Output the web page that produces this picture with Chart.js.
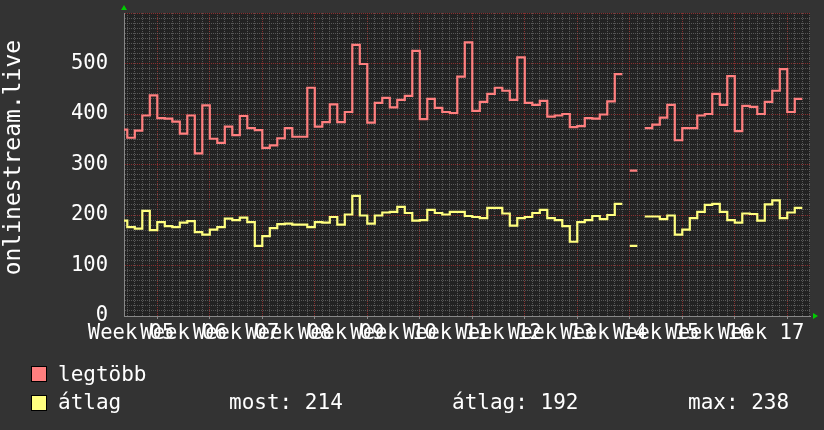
<!DOCTYPE html>
<html>
<head>
<meta charset="utf-8">
<script src="https://cdn.jsdelivr.net/npm/chart.js@4"></script>
<style>
  body { margin: 0; background: #333; }
  #wrap { position: relative; width: 824px; height: 430px; }
  .leg { position: absolute; font: 21px 'DejaVu Sans Mono', monospace; color: #fff; white-space: pre; line-height: 21px; }
  .sw { position: absolute; width: 14px; height: 14px; border: 1px solid #000; }
</style>
</head>
<body>
<div id="wrap">
  <canvas id="rrd" width="824" height="430"></canvas>
  <div class="sw" style="left:31px;top:366px;background:#ff7f7f"></div>
  <div class="leg" style="left:58px;top:364px">legtöbb</div>
  <div class="sw" style="left:31px;top:395px;background:#ffff7f"></div>
  <div class="leg" style="left:58px;top:392px">átlag</div>
  <div class="leg" style="left:229px;top:392px">most: 214</div>
  <div class="leg" style="left:452px;top:392px">átlag: 192</div>
  <div class="leg" style="left:688px;top:392px">max: 238</div>
</div>
<script>
// one value per day, first entry is the partial day before day 0
const firstDay = -1;

const weekLabels = ['Week 05', 'Week 06', 'Week 07', 'Week 08', 'Week 09', 'Week 10', 'Week 11',
                    'Week 12', 'Week 13', 'Week 14', 'Week 15', 'Week 16', 'Week 17'];

const legtobb = [369, 353, 367, 397, 437, 392, 391, 385, 361, 397,
                 322, 417, 351, 343, 375, 358, 396, 372, 368, 333,
                 338, 352, 372, 355, 355, 452, 375, 384, 419, 384,
                 404, 537, 499, 383, 422, 432, 413, 428, 436, 525,
                 390, 430, 412, 404, 402, 474, 542, 406, 424, 440,
                 452, 446, 428, 512, 422, 418, 426, 395, 397, 400,
                 374, 376, 392, 391, 399, 425, 479, null, 288, null,
                 372, 379, 393, 418, 348, 372, 372, 397, 400, 440,
                 418, 475, 366, 416, 414, 400, 424, 446, 489, 404,
                 430];

const atlag = [189, 176, 173, 208, 170, 186, 178, 176, 185, 188,
               166, 161, 171, 176, 193, 190, 195, 186, 139, 158,
               174, 182, 183, 181, 181, 176, 186, 185, 196, 181,
               201, 238, 199, 183, 199, 205, 206, 216, 204, 189,
               190, 210, 204, 201, 206, 206, 198, 196, 194, 214,
               214, 203, 179, 194, 196, 204, 210, 194, 190, 178,
               147, 186, 190, 198, 192, 200, 222, null, 139, null,
               197, 197, 192, 199, 161, 171, 194, 206, 220, 222,
               206, 190, 185, 203, 202, 189, 221, 229, 194, 205,
               214];

const FONT = 'DejaVu Sans Mono';
const MINOR = 'rgba(110,110,110,0.7)';
const MAJOR = 'rgba(150,50,50,0.9)';

// each day becomes a flat segment, nulls break the line
function toSteps(values) {
    const pts = [];
    values.forEach((v, i) => {
        const d = firstDay + i;
        if (v === null) {
            pts.push({ x: d + 0.5, y: null });
        } else {
            pts.push({ x: d, y: v }, { x: d + 1, y: v });
        }
    });
    return pts;
}

const background = {
    id: 'background',
    beforeDraw(chart) {
        const c = chart.ctx, a = chart.chartArea;
        c.save();
        c.fillStyle = '#333333';
        c.fillRect(0, 0, chart.width, chart.height);
        c.fillStyle = '#222222';
        c.fillRect(a.left, a.top, a.right - a.left, a.bottom - a.top);
        c.restore();
    },
    afterDraw(chart) {
        const c = chart.ctx, a = chart.chartArea;
        c.save();
        c.fillStyle = '#00cc00';
        c.beginPath();
        c.moveTo(a.left - 3, a.top - 3);
        c.lineTo(a.left + 3, a.top - 3);
        c.lineTo(a.left, a.top - 8);
        c.fill();
        c.beginPath();
        c.moveTo(a.right + 3, a.bottom - 3);
        c.lineTo(a.right + 3, a.bottom + 3);
        c.lineTo(a.right + 8, a.bottom);
        c.fill();
        c.restore();
    }
};

const ctx = document.getElementById('rrd').getContext('2d');

new Chart(ctx, {
    type: 'line',
    data: {
        datasets: [
            { label: 'legtöbb', data: toSteps(legtobb), borderColor: '#ff7f7f', borderWidth: 2.2,
              pointRadius: 0, tension: 0, clip: 0, borderJoinStyle: 'miter' },
            { label: 'átlag', data: toSteps(atlag), borderColor: '#ffff7f', borderWidth: 2.2,
              pointRadius: 0, tension: 0, clip: 0, borderJoinStyle: 'miter' }
        ]
    },
    options: {
        responsive: false,
        animation: false,
        devicePixelRatio: 1,
        layout: { padding: { top: 13, right: 14, left: 0, bottom: 0 } },
        plugins: { legend: { display: false }, tooltip: { enabled: false } },
        scales: {
            x: {
                type: 'linear',
                min: -0.44,
                max: 91.03,
                afterBuildTicks(scale) {
                    const ticks = [];
                    for (let d = 0; d <= 91; d++) ticks.push({ value: d });
                    weekLabels.forEach((l, i) => ticks.push({ value: i * 7 + 0.5, lbl: l }));
                    ticks.sort((a, b) => a.value - b.value);
                    scale.ticks = ticks;
                },
                afterFit(scale) {
                    scale.height = 114;
                    scale.paddingLeft = 0;
                    scale.paddingRight = 0;
                },
                grid: {
                    color: c => c.tick.lbl ? 'transparent' : ((c.tick.value - 4) % 7 === 0 ? MAJOR : MINOR),
                    tickColor: c => (!c.tick.lbl && (c.tick.value - 4) % 7 === 0) ? '#888' : 'transparent',
                    tickLength: 3,
                    lineWidth: 1
                },
                border: { display: true, color: '#888', dash: [1, 1] },
                ticks: {
                    autoSkip: false,
                    maxRotation: 0,
                    minRotation: 0,
                    padding: 2,
                    color: '#fff',
                    font: { family: FONT, size: 20.5 },
                    callback: (v, i, ticks) => ticks[i].lbl || ''
                }
            },
            y: {
                min: 0,
                max: 600,
                afterBuildTicks(scale) {
                    const ticks = [];
                    for (let v = 0; v <= 600; v += 10) ticks.push({ value: v });
                    scale.ticks = ticks;
                },
                afterFit(scale) {
                    scale.width = 124;
                    scale.paddingTop = 0;
                    scale.paddingBottom = 0;
                },
                grid: {
                    color: c => c.tick.value % 100 === 0 ? MAJOR : MINOR,
                    drawTicks: false,
                    lineWidth: 1
                },
                border: { display: true, color: '#888', dash: [1, 1] },
                ticks: {
                    autoSkip: false,
                    padding: 16,
                    color: '#fff',
                    font: { family: FONT, size: 20.5 },
                    callback: v => (v % 100 === 0 && v < 600) ? String(v) : ''
                },
                title: {
                    display: true,
                    text: ' onlinestream.live',
                    color: '#fff',
                    padding: 0,
                    font: { family: FONT, size: 23 }
                }
            }
        }
    },
    plugins: [background]
});
</script>
</body>
</html>
